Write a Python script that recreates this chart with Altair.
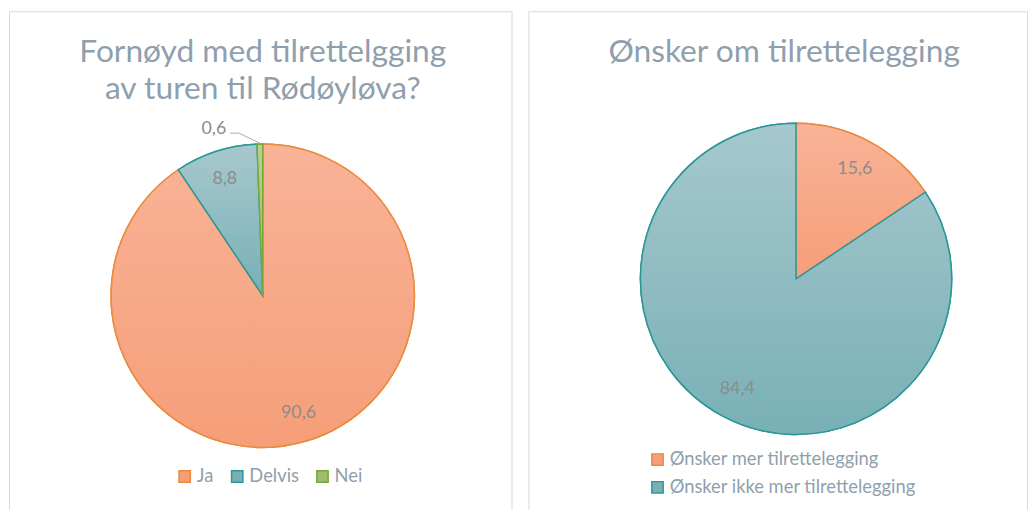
import altair as alt
import pandas as pd

# ---- data ----
left_title = "Fornøyd med tilrettelgging\nav turen til Rødøyløva?"
left_cats = ["Ja", "Delvis", "Nei"]
left_vals = [90.6, 8.8, 0.6]
left_labels = ["90,6", "8,8", "0,6"]

right_title = "Ønsker om tilrettelegging"
right_cats = ["Ønsker mer tilrettelegging", "Ønsker ikke mer tilrettelegging"]
right_vals = [15.6, 84.4]
right_labels = ["15,6", "84,4"]

# ---- styles ----
FONT = "Lato"
TITLE_COLOR = "#8f9fad"
LABEL_COLOR = "#8c8c8c"
ORANGE = ("#f9b397", "#f69e79", "#ea8a3c")
TEAL = ("#a6c8ce", "#78b0b6", "#2a9797")
GREEN = ("#b8d090", "#9dbd6c", "#76a83a")


def build(cats, vals, labels):
    df = pd.DataFrame({"cat": cats, "value": vals, "label": labels})
    df["end"] = df["value"].cumsum()
    df["start"] = df["end"] - df["value"]
    df["mid"] = (df["start"] + df["end"]) / 2
    return df


def grad(c):
    return alt.LinearGradient(
        gradient="linear", x1=0, y1=0, x2=0, y2=1,
        stops=[alt.GradientStop(offset=0, color=c[0]),
               alt.GradientStop(offset=1, color=c[1])])


def panel(df, cats, colors, title, cx, cy, r, w, h, tx, ty, legend_kw, label_r,
          small_label=None):
    theta_scale = alt.Scale(domain=[0, 100])
    base = alt.Chart(df)
    leg = dict(title=None, orient="none", symbolType="square", symbolSize=130,
               symbolStrokeWidth=1.5, labelFont=FONT, labelFontSize=18.5,
               labelColor=TITLE_COLOR, labelOffset=3, labelLimit=500, **legend_kw)
    flat = base.mark_arc(radius=r, strokeWidth=1.5).encode(
        theta=alt.Theta("start:Q", scale=theta_scale),
        theta2="end:Q",
        color=alt.Color("cat:N", scale=alt.Scale(domain=cats, range=[c[1] for c in colors]),
                        legend=alt.Legend(**leg)),
        stroke=alt.Stroke("cat:N", scale=alt.Scale(domain=cats, range=[c[2] for c in colors]),
                          legend=alt.Legend(**leg)),
        x=alt.value(cx), y=alt.value(cy),
    )
    layers = [flat]
    for c, col in zip(cats, colors):
        layers.append(
            base.transform_filter(alt.datum.cat == c)
            .mark_arc(radius=r, fill=grad(col), stroke=col[2], strokeWidth=1.5)
            .encode(theta=alt.Theta("start:Q", scale=theta_scale), theta2="end:Q",
                    x=alt.value(cx), y=alt.value(cy))
        )
    main = base
    if small_label is not None:
        main = base.transform_filter(alt.datum.cat != small_label)
    layers.append(
        main.mark_text(radius=label_r, font=FONT, fontSize=18, color=LABEL_COLOR)
        .encode(theta=alt.Theta("mid:Q", scale=theta_scale), text="label:N",
                x=alt.value(cx), y=alt.value(cy))
    )
    if small_label is not None:
        layers.append(
            base.transform_filter(alt.datum.cat == small_label)
            .mark_text(radius=r + 22, dx=-46, dy=7, font=FONT, fontSize=18, color=LABEL_COLOR)
            .encode(theta=alt.Theta("mid:Q", scale=theta_scale), text="label:N",
                    x=alt.value(cx), y=alt.value(cy))
        )
        layers.append(
            alt.Chart(alt.Data(values=[{"a": 1}])).mark_rule(color="#a9a9a9", strokeWidth=1)
            .encode(x=alt.value(cx - 33), x2=alt.value(cx - 24), y=alt.value(cy - 164),
                    y2=alt.value(cy - 164))
        )
        layers.append(
            alt.Chart(alt.Data(values=[{"a": 1}])).mark_rule(color="#a9a9a9", strokeWidth=1)
            .encode(x=alt.value(cx - 24), x2=alt.value(cx - 3), y=alt.value(cy - 164),
                    y2=alt.value(cy - 154))
        )
    layers.append(
        alt.Chart(alt.Data(values=[{"t": title}]))
        .mark_text(font=FONT, fontSize=32, color=TITLE_COLOR, lineBreak="\n",
                   lineHeight=38, baseline="alphabetic", align="center")
        .encode(text="t:N", x=alt.value(tx), y=alt.value(ty))
    )
    return alt.layer(*layers).properties(width=w, height=h)


left_df = build(left_cats, left_vals, left_labels)
right_df = build(right_cats, right_vals, right_labels)

left = panel(left_df, left_cats, [ORANGE, TEAL, GREEN], left_title,
             cx=256, cy=287, r=153, w=507, h=510, tx=256, ty=51,
             legend_kw=dict(legendX=168, legendY=460, direction="horizontal",
                            columnPadding=14),
             label_r=124, small_label="Nei")
right = panel(right_df, right_cats, [ORANGE, TEAL], right_title,
              cx=270, cy=270, r=157, w=503, h=510, tx=258, ty=51,
              legend_kw=dict(legendX=121, legendY=443, direction="vertical",
                             rowPadding=9),
              label_r=126)

chart = (
    alt.hconcat(left, right, spacing=15)
    .resolve_scale(color="independent", stroke="independent", theta="independent")
    .resolve_legend(color="independent", stroke="independent")
    .properties(padding=0)
    .configure_view(stroke="#d9d9d9", strokeWidth=1)
)

chart.save("out.html", embed_options={"renderer": "svg", "actions": False})
